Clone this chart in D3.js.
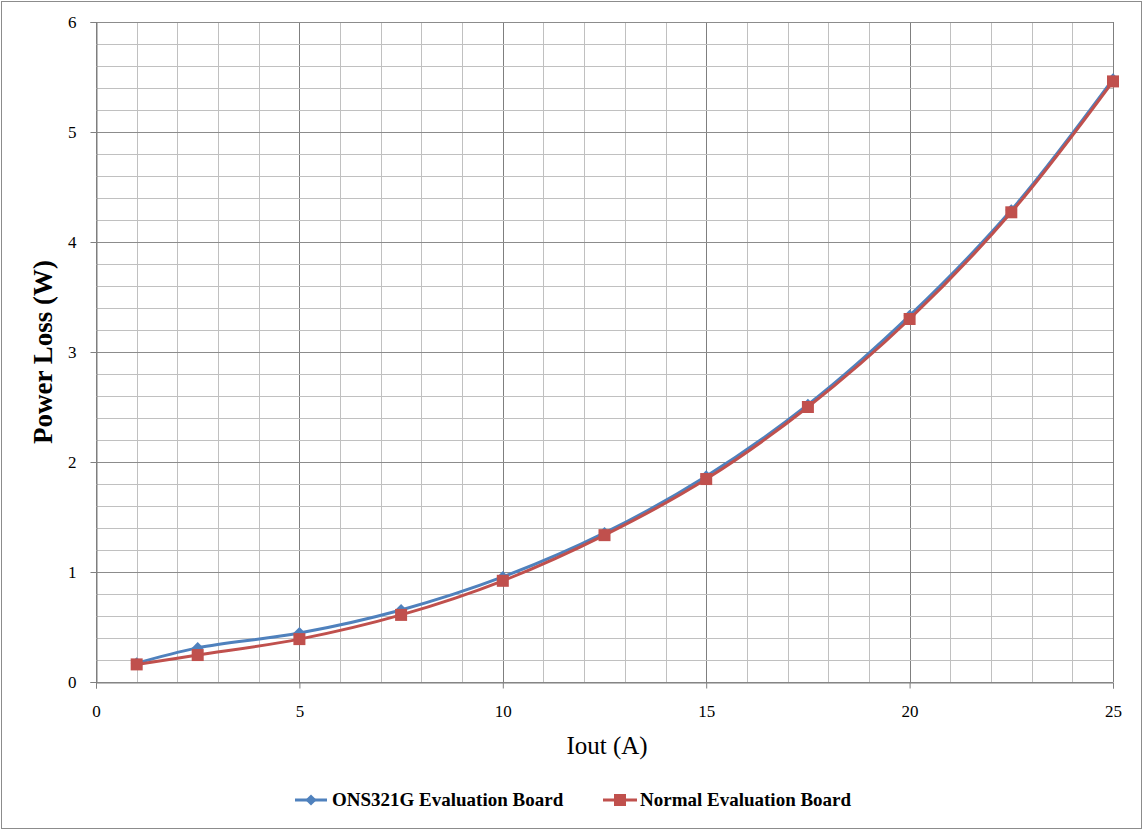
<!DOCTYPE html>
<html>
<head>
<meta charset="utf-8">
<script src="https://cdn.jsdelivr.net/npm/d3@7"></script>
<style>
  body { margin: 0; background: #fff; }
  svg text { font-family: "Liberation Serif", "DejaVu Serif", serif; }
</style>
</head>
<body>
<script>
// data
var iout = [1, 2.5, 5, 7.5, 10, 12.5, 15, 17.5, 20, 22.5, 25]
var onsLoss = [0.17, 0.31, 0.445, 0.655, 0.955, 1.355, 1.87, 2.52, 3.33, 4.29, 5.48]
var normalLoss = [0.16, 0.245, 0.39, 0.61, 0.92, 1.335, 1.845, 2.50, 3.30, 4.27, 5.46]
var seriesNames = ["ONS321G Evaluation Board", "Normal Evaluation Board"]
var xTicks = [0, 5, 10, 15, 20, 25]
var yTicks = [0, 1, 2, 3, 4, 5, 6]

var width = 1144, height = 831
var blue = "#4F81BD", red = "#C0504D"
var serif = '"Liberation Serif", "DejaVu Serif", serif'

var svg = d3.select("body").append("svg")
	.attr("width", width)
	.attr("height", height)

// chart border
svg.append("rect")
	.attr("x", 1.5).attr("y", 1.5)
	.attr("width", width - 4).attr("height", height - 4)
	.style("fill", "none")
	.style("stroke", "#8c8c8c")
	.style("stroke-width", 1)

var x = d3.scaleLinear().domain([0, 25]).range([96, 1113])
var y = d3.scaleLinear().domain([0, 6]).range([682, 22])

var grid = svg.append("g")

// minor + major grid
d3.range(0, 25.01, 1).forEach(function(v) {
	grid.append("line")
		.attr("x1", Math.round(x(v)) + 0.5).attr("x2", Math.round(x(v)) + 0.5)
		.attr("y1", y(0)).attr("y2", y(6))
		.style("stroke", v % 5 == 0 ? "#7f7f7f" : "#c0c0c0")
		.style("stroke-width", 1)
})
d3.range(0, 6.01, 0.2).forEach(function(v) {
	var major = Math.abs(v - Math.round(v)) < 0.001
	grid.append("line")
		.attr("x1", x(0)).attr("x2", x(25))
		.attr("y1", Math.round(y(v)) + 0.5).attr("y2", Math.round(y(v)) + 0.5)
		.style("stroke", major ? "#8c8c8c" : "#c0c0c0")
		.style("stroke-width", 1)
})

// axes
var xAxis = svg.append("g")
	.attr("transform", "translate(0," + (y(0) + 0.5) + ")")
	.call(d3.axisBottom(x).tickValues(xTicks).tickFormat(d3.format("d")).tickSize(6).tickPadding(16))
var yAxis = svg.append("g")
	.attr("transform", "translate(" + (x(0) + 0.5) + ",0)")
	.call(d3.axisLeft(y).tickValues(yTicks).tickFormat(d3.format("d")).tickSize(6).tickPadding(14))

xAxis.attr("font-family", serif).attr("font-size", 17)
yAxis.attr("font-family", serif).attr("font-size", 17)
svg.selectAll(".domain").style("stroke", "#7f7f7f")
svg.selectAll(".tick line").style("stroke", "#7f7f7f")
svg.selectAll(".tick text").style("fill", "#000")

// axis titles
svg.append("text")
	.attr("x", 607).attr("y", 754)
	.attr("text-anchor", "middle")
	.attr("font-family", serif)
	.style("font-size", "25px")
	.text("Iout (A)")

svg.append("text")
	.attr("transform", "translate(52,352) rotate(-90)")
	.attr("text-anchor", "middle")
	.attr("font-family", serif)
	.style("font-size", "27px")
	.style("font-weight", "bold")
	.text("Power Loss (W)")

// lines
var line = d3.line()
	.x(function(d) { return x(d[0]) })
	.y(function(d) { return y(d[1]) })
	.curve(d3.curveCatmullRom.alpha(0.5))

var onsData = iout.map(function(v, i) { return [v, onsLoss[i]] })
var normalData = iout.map(function(v, i) { return [v, normalLoss[i]] })

svg.append("path")
	.attr("d", line(onsData))
	.style("fill", "none").style("stroke", blue).style("stroke-width", 3)

svg.append("g").selectAll("path")
	.data(onsData).enter().append("path")
	.attr("d", d3.symbol().type(d3.symbolDiamond2).size(90))
	.attr("transform", function(d) { return "translate(" + x(d[0]) + "," + y(d[1]) + ")" })
	.style("fill", blue)

svg.append("path")
	.attr("d", line(normalData))
	.style("fill", "none").style("stroke", red).style("stroke-width", 3)

svg.append("g").selectAll("rect")
	.data(normalData).enter().append("rect")
	.attr("x", function(d) { return x(d[0]) - 6 })
	.attr("y", function(d) { return y(d[1]) - 6 })
	.attr("width", 12).attr("height", 12)
	.style("fill", red)

// legend
var legend = svg.append("g").attr("font-family", serif)
legend.append("line")
	.attr("x1", 295).attr("x2", 327).attr("y1", 800).attr("y2", 800)
	.style("stroke", blue).style("stroke-width", 3)
legend.append("path")
	.attr("d", d3.symbol().type(d3.symbolDiamond2).size(80))
	.attr("transform", "translate(311,800)")
	.style("fill", blue)
legend.append("text")
	.attr("x", 332).attr("y", 806)
	.style("font-size", "19px").style("font-weight", "bold")
	.text(seriesNames[0])

legend.append("line")
	.attr("x1", 603).attr("x2", 637).attr("y1", 800).attr("y2", 800)
	.style("stroke", red).style("stroke-width", 3)
legend.append("rect")
	.attr("x", 614).attr("y", 794).attr("width", 12).attr("height", 12)
	.style("fill", red)
legend.append("text")
	.attr("x", 640).attr("y", 806)
	.style("font-size", "19px").style("font-weight", "bold")
	.text(seriesNames[1])
</script>
</body>
</html>
